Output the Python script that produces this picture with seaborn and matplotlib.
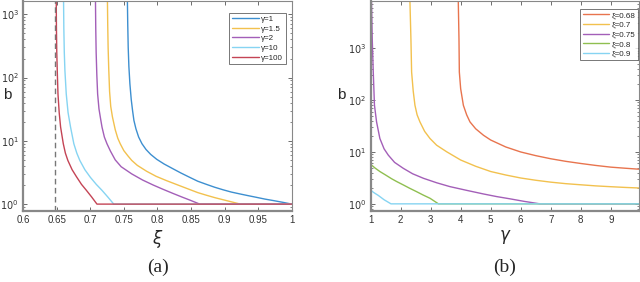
import numpy as np
import pandas as pd
import seaborn as sns
import matplotlib
matplotlib.use("Agg")
from matplotlib import pyplot as plt
from matplotlib import ticker

# ---- panel (a): b against xi, one curve per gamma ----
gamma_labels = ["γ=1", "γ=1.5", "γ=2", "γ=10", "γ=100"]
xi_g1 = [0.7553, 0.7558, 0.7565, 0.7575, 0.759, 0.761, 0.763, 0.765, 0.768, 0.772, 0.777,
         0.783, 0.790, 0.799, 0.810, 0.8235, 0.835, 0.848, 0.860, 0.873, 0.885, 0.898,
         0.910, 0.9225, 0.935, 0.9473, 0.960, 0.972, 0.986, 1.0]
b_g1 = [1600, 700, 300, 150, 80, 45, 30, 21, 15.5, 11.5, 9.0, 7.3, 6.1, 5.1, 4.3, 3.6,
        3.1, 2.65, 2.3, 2.05, 1.85, 1.68, 1.55, 1.45, 1.36, 1.28, 1.2, 1.14, 1.07, 1.0]
xi_g15 = [0.7256, 0.7260, 0.7266, 0.7275, 0.7288, 0.7305, 0.733, 0.7372, 0.741, 0.7446,
          0.750, 0.756, 0.7618, 0.770, 0.784, 0.798, 0.8135, 0.8333, 0.848, 0.860, 0.873,
          0.886, 0.898, 0.911, 0.9234, 1.0]
b_g15 = [1600, 700, 300, 140, 60, 35, 24, 15, 11, 9.0, 7.0, 5.8, 4.9, 4.1, 3.3, 2.75,
         2.35, 1.95, 1.7, 1.52, 1.38, 1.26, 1.17, 1.08, 1.0, 1.0]
xi_g2 = [0.7078, 0.7082, 0.7088, 0.7098, 0.711, 0.713, 0.7155, 0.7175, 0.721, 0.7249,
         0.730, 0.7372, 0.746, 0.7618, 0.778, 0.7938, 0.808, 0.8235, 0.836, 0.848, 0.863, 1.0]
b_g2 = [1600, 600, 250, 110, 55, 32, 22, 16.5, 11.5, 9.0, 6.9, 5.0, 3.9, 3.0, 2.4, 2.0,
        1.72, 1.47, 1.3, 1.16, 1.0, 1.0]
xi_g10 = [0.6603, 0.6607, 0.6614, 0.6623, 0.6643, 0.667, 0.6707, 0.6756, 0.680, 0.6845,
          0.692, 0.7002, 0.709, 0.7175, 0.726, 0.735, 1.0]
b_g10 = [1600, 600, 250, 130, 55, 28, 16.5, 9.0, 6.4, 4.9, 3.5, 2.65, 2.05, 1.65, 1.3, 1.0, 1.0]
xi_g100 = [0.6494, 0.6497, 0.6502, 0.6510, 0.652, 0.6538, 0.6559, 0.6599, 0.663, 0.6667,
           0.673, 0.6796, 0.687, 0.6943, 0.702, 0.710, 1.0]
b_g100 = [1600, 600, 250, 120, 55, 28, 16.5, 9.0, 6.4, 4.9, 3.5, 2.7, 2.05, 1.65, 1.3, 1.0, 1.0]
xi_limit = 0.6478  # dashed vertical

# ---- panel (b): b against gamma, one curve per xi ----
xi_labels = ["ξ=0.68", "ξ=0.7", "ξ=0.75", "ξ=0.8", "ξ=0.9"]
gm_x068 = [3.92, 3.944, 3.956, 4.0, 4.09, 4.2, 4.31, 4.5, 4.76, 5.0, 5.5, 6.0, 6.5, 7.0,
           7.5, 8.0, 8.5, 9.0, 9.5, 9.95]
b_x068 = [8500, 1500, 347, 166, 79.5, 52, 38, 28, 21, 17, 12.5, 10, 8.5, 7.4, 6.6, 6.0,
          5.5, 5.1, 4.85, 4.65]
gm_x07 = [2.31, 2.344, 2.367, 2.42, 2.478, 2.55, 2.644, 2.8, 2.978, 3.2, 3.533, 4.0, 4.5,
          5.0, 5.5, 6.0, 6.5, 7.0, 7.5, 8.0, 8.5, 9.0, 9.5, 9.95]
b_x07 = [8500, 1500, 347, 150, 79.5, 52, 38, 25, 18.2, 13.5, 10.1, 7.0, 5.3, 4.2, 3.6,
         3.15, 2.85, 2.62, 2.45, 2.33, 2.22, 2.14, 2.07, 2.02]
gm_x075 = [1.03, 1.056, 1.09, 1.13, 1.2, 1.31, 1.45, 1.59, 1.8, 2.09, 2.4, 2.76, 3.2, 3.64,
           4.2, 4.76, 5.2, 5.64, 6.1, 6.64, 9.95]
b_x075 = [8500, 1500, 347, 79.5, 38, 18.2, 11.5, 8.7, 6.3, 4.84, 3.8, 3.11, 2.55, 2.15,
          1.82, 1.55, 1.38, 1.25, 1.12, 1.0, 1.0]
gm_x08 = [1.0, 1.15, 1.31, 1.5, 1.7, 1.87, 2.1, 2.3, 2.53, 2.75, 2.98, 3.26, 9.95]
b_x08 = [5.8, 4.9, 4.2, 3.6, 3.05, 2.69, 2.3, 2.0, 1.72, 1.48, 1.28, 1.0, 1.0]
gm_x09 = [1.0, 1.1, 1.26, 1.45, 1.68, 9.95]
b_x09 = [1.85, 1.66, 1.45, 1.2, 1.0, 1.0]

colors_a = ["#3d8fd0", "#f2c14e", "#a35fb8", "#86d4f2", "#c44455"]
colors_b = ["#e8744e", "#f2c14e", "#a35fb8", "#8fbf50", "#86d4f2"]

sns.set_style("ticks")
plt.rcParams['font.family'] = ['Liberation Sans', 'DejaVu Sans']
plt.rcParams['mathtext.fontset'] = 'dejavusans'

fig = plt.figure(figsize=(6.4, 2.82), dpi=100)
axA = fig.add_axes([0.036, 0.252, 0.420, 0.746])
axB = fig.add_axes([0.579, 0.252, 0.420, 0.746])

curves_a = [(xi_g1, b_g1), (xi_g15, b_g15), (xi_g2, b_g2), (xi_g10, b_g10), (xi_g100, b_g100)]
for (xs, bs), lab, c in zip(curves_a, gamma_labels, colors_a):
    df = pd.DataFrame({"xi": xs, "b": bs})
    sns.lineplot(data=df, x="xi", y="b", ax=axA, color=c, lw=1.0, label=lab,
                 estimator=None, sort=False)
axA.axvline(xi_limit, color="#777777", lw=1.0, ls=(0, (4, 2.5)))

curves_b = [(gm_x068, b_x068), (gm_x07, b_x07), (gm_x075, b_x075), (gm_x08, b_x08), (gm_x09, b_x09)]
for (xs, bs), lab, c in zip(curves_b, xi_labels, colors_b):
    df = pd.DataFrame({"gamma": xs, "b": bs})
    sns.lineplot(data=df, x="gamma", y="b", ax=axB, color=c, lw=1.0, label=lab,
                 estimator=None, sort=False)

def style(ax, anchor):
    ax.set_yscale("log")
    for s in ax.spines.values():
        s.set_visible(True)
        s.set_color("#888888")
        s.set_linewidth(0.8)
    ax.spines['bottom'].set_linewidth(1.6)
    ax.spines['left'].set_linewidth(1.6)
    ax.tick_params(which="both", direction="in", top=True, right=True,
                   colors="#555555", labelcolor="#333333", labelsize=7, pad=3)
    ax.tick_params(which="major", length=3, width=0.6)
    ax.tick_params(which="minor", length=1.6, width=0.5)
    ax.yaxis.set_major_locator(ticker.LogLocator(base=10, numticks=10))
    ax.yaxis.set_minor_locator(ticker.LogLocator(base=10, subs=np.arange(2, 10), numticks=20))
    ax.yaxis.set_minor_formatter(ticker.NullFormatter())
    ax.yaxis.set_major_formatter(ticker.FuncFormatter(
        lambda v, p: r"$10^{%d}$" % int(round(np.log10(v)))))
    leg = ax.legend(loc="upper right", bbox_to_anchor=anchor, fontsize=5.8, frameon=True,
                    fancybox=False, handlelength=3.3, handletextpad=0.3, borderpad=0.35,
                    labelspacing=0.25, borderaxespad=0.0)
    leg.get_frame().set_edgecolor("#555555")
    leg.get_frame().set_linewidth(0.7)

style(axA, (0.978, 0.943))
axA.set_xlim(0.6, 1.0)
axA.set_ylim(0.78, 1650)
axA.set_xticks([0.6, 0.65, 0.7, 0.75, 0.8, 0.85, 0.9, 0.95, 1.0])
axA.set_xticklabels(["0.6", "0.65", "0.7", "0.75", "0.8", "0.85", "0.9", "0.95", "1"])
axA.set_xlabel(r"$\xi$", fontsize=12, labelpad=2)
axA.set_ylabel("b", fontsize=11, rotation=0)
axA.yaxis.set_label_coords(-0.06, 0.52)

style(axB, (0.996, 0.962))
axB.set_xlim(1.0, 9.95)
axB.set_ylim(0.73, 8300)
axB.set_xticks(range(1, 10))
axB.set_xlabel(r"$\gamma$", fontsize=12, labelpad=2)
axB.set_ylabel("b", fontsize=11, rotation=0)
axB.yaxis.set_label_coords(-0.11, 0.52)

fig.text(0.247, 0.035, "(a)", fontsize=14, family="Liberation Serif", ha="center")
fig.text(0.789, 0.035, "(b)", fontsize=14, family="Liberation Serif", ha="center")

fig.savefig("out.png", dpi=100)
